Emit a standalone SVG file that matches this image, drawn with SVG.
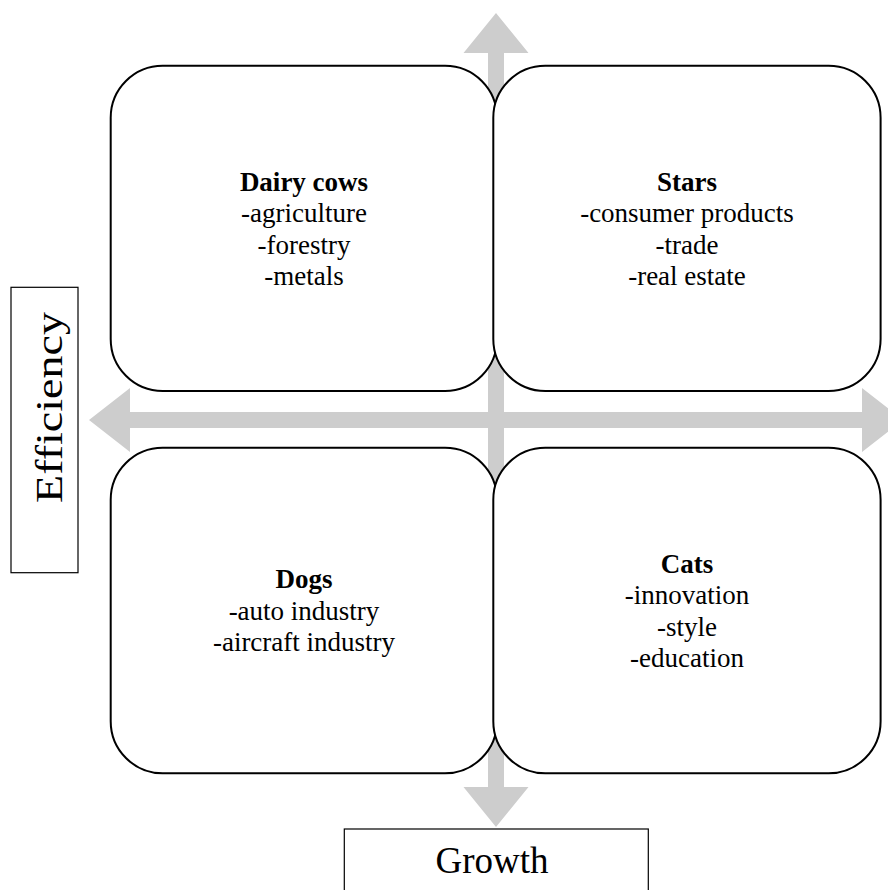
<svg xmlns="http://www.w3.org/2000/svg" width="888" height="890" viewBox="0 0 888 890">
  <style>
    .arrow { fill: #cdcdcd; stroke: none; }
    .quad { fill: #ffffff; stroke: #000000; stroke-width: 2; }
    .label { fill: #ffffff; stroke: #000000; stroke-width: 1.2; }
    text { font-family: "Liberation Serif", "Times New Roman", serif; fill: #000000; }
    .body { font-size: 27px; text-anchor: middle; }
    .title { font-weight: bold; }
    .axis { font-size: 37px; }
  </style>

  <!-- double-headed axis arrows, drawn beneath the quadrants -->
  <g id="connectors">
    <polygon class="arrow" points="488,53 463.5,53 496,13 528.5,53 504,53 504,787 528.5,787 496,827 463.5,787 488,787"/>
    <polygon class="arrow" points="130,412 130,388 89,420 130,452 130,428 862,428 862,452 903,420 862,388 862,412"/>
  </g>

  <g id="dairy-cows">
    <rect class="quad" x="110.7" y="65.7" width="386.3" height="325.3" rx="52" ry="52"/>
    <text class="body" x="304" y="190.5"><tspan class="title">Dairy cows</tspan></text>
    <text class="body" x="304" y="222">-agriculture</text>
    <text class="body" x="304" y="253.5">-forestry</text>
    <text class="body" x="304" y="285">-metals</text>
  </g>

  <g id="stars">
    <rect class="quad" x="493.3" y="65.7" width="387.3" height="325.3" rx="52" ry="52"/>
    <text class="body" x="687" y="190.5"><tspan class="title">Stars</tspan></text>
    <text class="body" x="687" y="222">-consumer products</text>
    <text class="body" x="687" y="253.5">-trade</text>
    <text class="body" x="687" y="285">-real estate</text>
  </g>

  <g id="dogs">
    <rect class="quad" x="110.7" y="447.7" width="386.3" height="325.6" rx="52" ry="52"/>
    <text class="body" x="304" y="588"><tspan class="title">Dogs</tspan></text>
    <text class="body" x="304" y="619.5">-auto industry</text>
    <text class="body" x="304" y="651">-aircraft industry</text>
  </g>

  <g id="cats">
    <rect class="quad" x="493.3" y="447.7" width="387.3" height="325.6" rx="52" ry="52"/>
    <text class="body" x="687" y="572.5"><tspan class="title">Cats</tspan></text>
    <text class="body" x="687" y="604">-innovation</text>
    <text class="body" x="687" y="635.5">-style</text>
    <text class="body" x="687" y="667">-education</text>
  </g>

  <g id="efficiency-label">
    <rect class="label" x="11" y="287.3" width="67" height="285.4"/>
    <text class="axis" transform="translate(62,503) rotate(-90)" x="0" y="0" textLength="191" lengthAdjust="spacingAndGlyphs">Efficiency</text>
  </g>

  <g id="growth-label">
    <rect class="label" x="344.3" y="829" width="304" height="80"/>
    <text class="axis" x="492" y="873" text-anchor="middle">Growth</text>
  </g>
</svg>
